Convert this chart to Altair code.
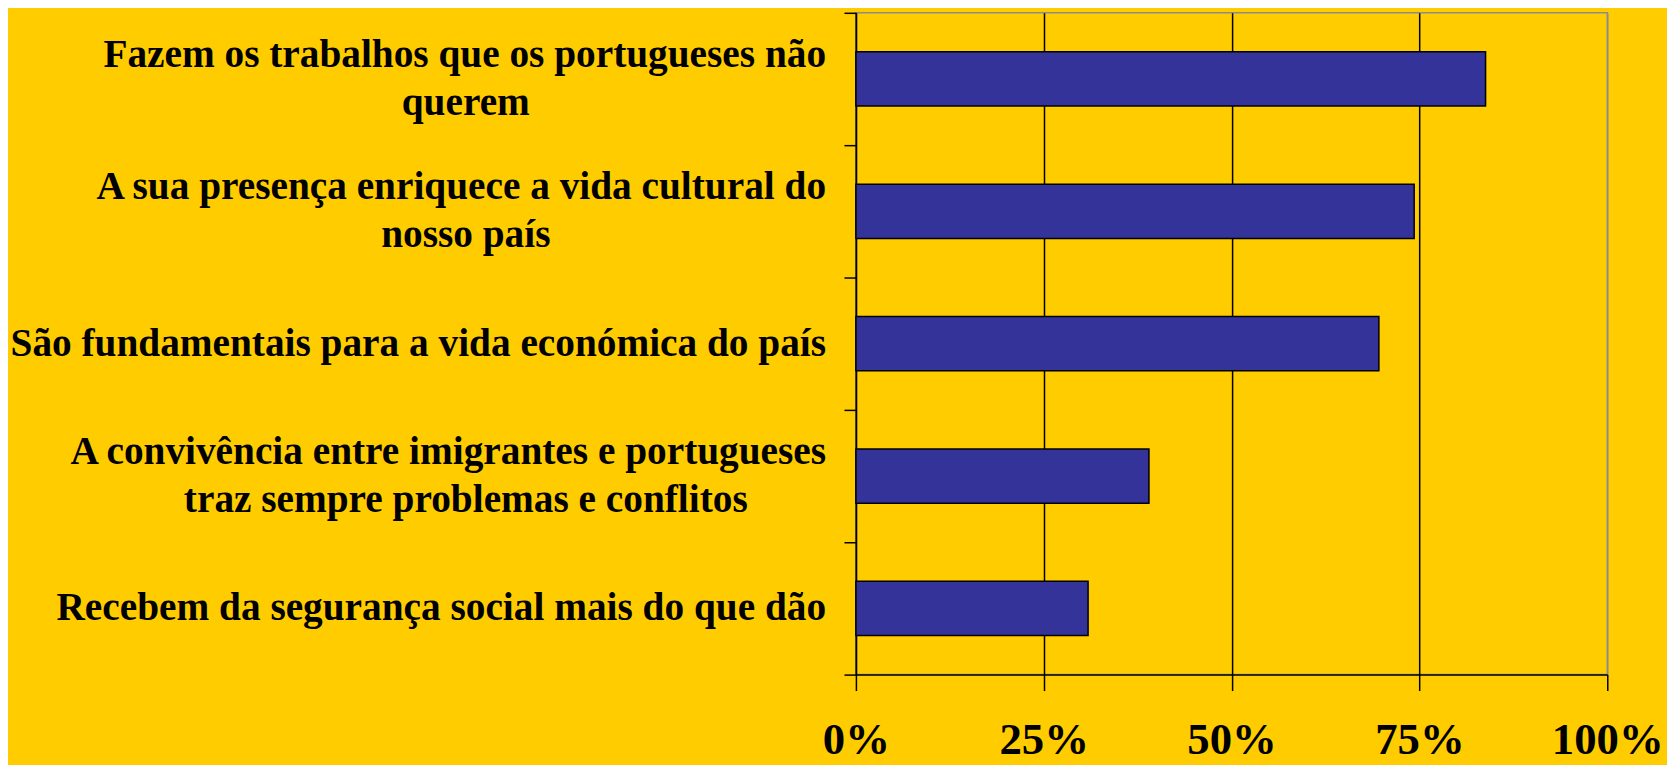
import altair as alt
import pandas as pd

line1 = [
    "Fazem os trabalhos que os portugueses não",
    "A sua presença enriquece a vida cultural do",
    "São fundamentais para a vida económica do país",
    "A convivência entre imigrantes e portugueses",
    "Recebem da segurança social mais do que dão",
]
line2 = [
    "querem",
    "nosso país",
    "",
    "traz sempre problemas e conflitos",
    "",
]
values = [83.8, 74.3, 69.6, 39.0, 30.9]
tick_values = [0, 25, 50, 75, 100]

cats = [(a + " " + b).strip() for a, b in zip(line1, line2)]
df = pd.DataFrame({"cat": cats, "value": values, "l1": line1, "l2": line2})

FONT = "Liberation Serif"
YELLOW = "#FFCC00"

y_enc = alt.Y(
    "cat:N",
    sort=cats,
    scale=alt.Scale(paddingInner=0, paddingOuter=0),
    axis=alt.Axis(
        labels=False, title=None, tickBand="extent", tickSize=12,
        tickColor="black", tickWidth=1.5, domainColor="black", domainWidth=1.5,
        grid=False,
    ),
)

bars = alt.Chart(df).mark_bar(
    color="#333399", stroke="black", strokeWidth=1.5, height={"band": 0.41}
).encode(
    x=alt.X(
        "value:Q",
        scale=alt.Scale(domain=[0, 100]),
        axis=alt.Axis(
            values=tick_values, labelExpr="datum.value + '%'", title=None,
            tickSize=16, tickColor="black", tickWidth=1.5,
            domainColor="black", domainWidth=1.5,
            grid=True, gridWidth=1.5,
            gridColor={"condition": {"test": "datum.value === 100", "value": "#8C8C8C"}, "value": "black"},
            labelFont=FONT, labelFontSize=45, labelFontWeight="bold", labelColor="black",
            labelPadding=63, labelBaseline="alphabetic", labelFlush=False,
            labelOverlap=False, labelBound=False,
        ),
    ),
    y=y_enc,
)

txt_common = dict(font=FONT, fontSize=39.5, fontWeight="bold", color="black",
                  baseline="middle")
ysort = alt.Y("cat:N", sort=cats)

single = alt.Chart(df).transform_filter("datum.l2 === ''").mark_text(
    align="right", **txt_common
).encode(x=alt.value(-30), y=ysort, text="l1:N")

first = alt.Chart(df).transform_filter("datum.l2 !== ''").mark_text(
    align="right", dy=-24, **txt_common
).encode(x=alt.value(-30), y=ysort, text="l1:N")

second = alt.Chart(df).transform_filter("datum.l2 !== ''").mark_text(
    align="center", dy=24, **txt_common
).encode(x=alt.value(-392), y=ysort, text="l2:N")

chart = alt.layer(bars, single, first, second).properties(
    width=755, height=665,
    autosize=alt.AutoSizeParams(type="none"),
    padding={"left": 852, "top": 3, "right": 60, "bottom": 89},
    background=YELLOW,
).configure_view(stroke="#8C8C8C", strokeWidth=1.5)

chart.save("out.html", embed_options={"renderer": "svg", "actions": False})
